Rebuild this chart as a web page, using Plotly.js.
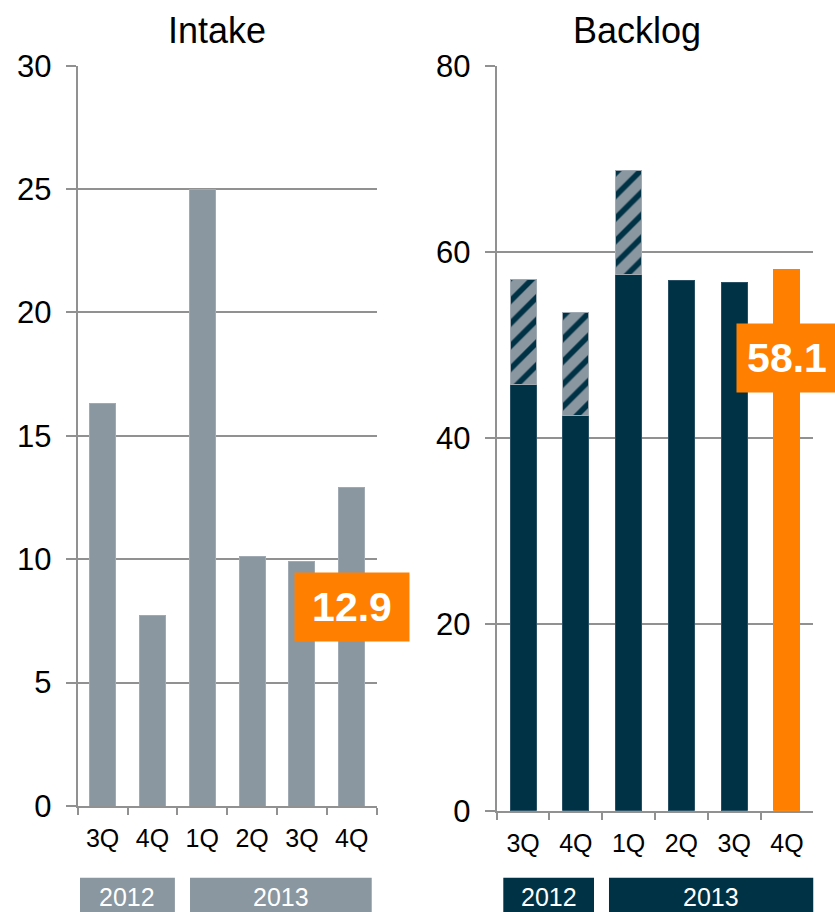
<!DOCTYPE html>
<html>
<head>
<meta charset="utf-8">
<script src="https://cdn.plot.ly/plotly-3.0.1.min.js"></script>
<style>html,body{margin:0;padding:0;background:#fff;}#chart{width:835px;height:912px;}</style>
</head>
<body>
<div id="chart"></div>
<script>
// ---- data ----
const periodYears = ['2012', '2012', '2013', '2013', '2013', '2013'];
const quarters = ['3Q', '4Q', '1Q', '2Q', '3Q', '4Q'];
const intakeValues = [16.3, 7.7, 25.0, 10.1, 9.9, 12.9];
const backlogValues = [45.8, 42.4, 57.6, 56.9, 56.7, 58.1];
const backlogHatched = [11.2, 11.1, 11.1, null, null, null];
const chartTitles = ['Intake', 'Backlog'];
const intakeTicks = [0, 5, 10, 15, 20, 25, 30];
const backlogTicks = [0, 20, 40, 60, 80];

// ---- styles ----
const GRAY = 'rgb(138,150,160)';
const NAVY = 'rgb(0,50,70)';
const ORANGE = 'rgb(255,128,0)';
const AXIS = 'rgb(145,145,145)';
const FONT = 'Liberation Sans, Arial, sans-serif';

const cats = quarters.map((q, i) => periodYears[i] + ' ' + q);
const last = cats.length - 1;

const traces = [
  {
    type: 'bar', x: cats, y: intakeValues, xaxis: 'x', yaxis: 'y',
    width: 0.52,
    marker: {color: GRAY, line: {color: 'rgb(160,170,178)', width: 1}},
    hoverinfo: 'none'
  },
  {
    type: 'bar', x: cats, y: backlogValues, xaxis: 'x2', yaxis: 'y2',
    width: 0.49,
    marker: {color: backlogValues.map((v, i) => i === last ? ORANGE : NAVY),
             line: {color: backlogValues.map((v, i) => i === last ? ORANGE : 'rgb(40,80,100)'), width: 1}},
    hoverinfo: 'none'
  },
  {
    type: 'bar', x: cats, y: backlogHatched, xaxis: 'x2', yaxis: 'y2',
    width: 0.49,
    marker: {color: GRAY, line: {color: 'rgb(160,170,178)', width: 1},
             pattern: {shape: '/', bgcolor: GRAY, fgcolor: NAVY, size: 16, solidity: 0.35}},
    hoverinfo: 'none'
  }
];

function xAxis(domain, anchor) {
  return {
    domain: domain, anchor: anchor, type: 'category', categoryorder: 'array', categoryarray: cats,
    range: [-0.5, cats.length - 0.5],
    tickmode: 'array', tickvals: cats, ticktext: quarters, tickson: 'boundaries',
    ticks: 'outside', ticklen: 7, tickwidth: 2, tickcolor: AXIS,
    showline: true, linecolor: AXIS, linewidth: 2, showgrid: false,
    tickfont: {family: FONT, size: 25, color: '#000'},
    ticklabelstandoff: 9, fixedrange: true
  };
}
function yAxis(domain, ticks, anchor) {
  return {
    domain: domain, range: [ticks[0], ticks[ticks.length - 1]],
    tickmode: 'array', tickvals: ticks, anchor: anchor,
    ticks: 'outside', ticklen: 10, tickwidth: 2, tickcolor: AXIS,
    showline: true, linecolor: AXIS, linewidth: 2,
    showgrid: true, gridcolor: AXIS, gridwidth: 2, zeroline: false,
    tickfont: {family: FONT, size: 31, color: '#000'},
    ticklabelstandoff: 8, fixedrange: true
  };
}

// year group boxes
function yearGroups() {
  const groups = [];
  periodYears.forEach((y, i) => {
    const g = groups[groups.length - 1];
    if (g && g.year === y) g.to = i; else groups.push({year: y, from: i, to: i});
  });
  return groups;
}
const groups = yearGroups();
const boxPads = {
  x: [[0.454, 0.45], [0.246, 0.4]],
  x2: [[0.375, 0.344], [0.372, 0.51]]
};
const shapes = [];
const annotations = [];
[['x', GRAY], ['x2', NAVY]].forEach(([ax, col]) => {
  groups.forEach((g, gi) => {
    const p = boxPads[ax][gi];
    shapes.push({type: 'rect', xref: ax, yref: 'paper',
      x0: g.from - p[0], x1: g.to + p[1], y0: -0.01, y1: 0.0376,
      fillcolor: col, line: {width: 0}, layer: 'above'});
    annotations.push({xref: ax, yref: 'paper', x: (g.from - p[0] + g.to + p[1]) / 2, y: 0.0164,
      text: g.year, showarrow: false, xanchor: 'center', yanchor: 'middle',
      font: {family: FONT, size: 25, color: '#fff'}});
  });
});

// titles
annotations.push({xref: 'paper', yref: 'paper', x: 217 / 835, y: 1 - 30 / 912, xanchor: 'center', yanchor: 'middle',
  text: chartTitles[0], showarrow: false, font: {family: FONT, size: 36, color: '#000'}});
annotations.push({xref: 'paper', yref: 'paper', x: 636.5 / 835, y: 1 - 30 / 912, xanchor: 'center', yanchor: 'middle',
  text: chartTitles[1], showarrow: false, font: {family: FONT, size: 36, color: '#000'}});

// highlighted latest values
annotations.push({xref: 'x', yref: 'y', x: cats[last], y: 8.08, text: '<b>' + intakeValues[last].toFixed(1) + '</b>',
  showarrow: false, bgcolor: ORANGE, width: 114, height: 68, borderpad: 0, xanchor: 'center', yanchor: 'middle',
  font: {family: FONT, size: 41, color: '#fff'}});
annotations.push({xref: 'x2', yref: 'y2', x: cats[last], y: 48.6, text: '<b>' + backlogValues[last].toFixed(1) + '</b>',
  showarrow: false, bgcolor: ORANGE, width: 100, height: 68, borderpad: 0, xanchor: 'center', yanchor: 'middle',
  font: {family: FONT, size: 41, color: '#fff'}});

const layout = {
  width: 835, height: 912,
  margin: {l: 0, r: 0, t: 0, b: 0},
  paper_bgcolor: '#fff', plot_bgcolor: '#fff',
  showlegend: false, barmode: 'stack',
  font: {family: FONT},
  xaxis: xAxis([77.7 / 835, 376.7 / 835], 'y'),
  yaxis: yAxis([1 - 806 / 912, 1 - 65.7 / 912], intakeTicks, 'x'),
  xaxis2: xAxis([496.7 / 835, 813.3 / 835], 'y2'),
  yaxis2: yAxis([1 - 810.7 / 912, 1 - 65.7 / 912], backlogTicks, 'x2'),
  shapes: shapes,
  annotations: annotations
};

Plotly.newPlot('chart', traces, layout, {displayModeBar: false, staticPlot: true});
</script>
</body>
</html>
